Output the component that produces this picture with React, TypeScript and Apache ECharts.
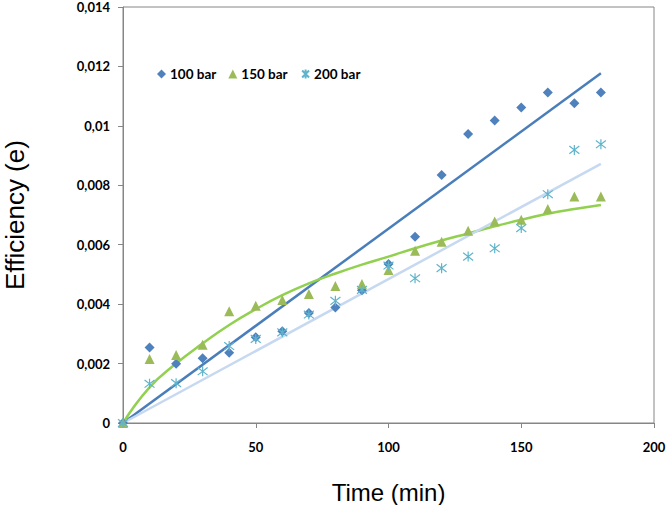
import React, { useEffect, useRef } from "react";
import * as echarts from "echarts";

const times = [0, 10, 20, 30, 40, 50, 60, 70, 80, 90, 100, 110, 120, 130, 140, 150, 160, 170, 180];
const bar100 = [0, 0.00254, 0.00199, 0.00218, 0.00236, 0.00289, 0.00309, 0.0037, 0.00389, 0.00447, 0.00535, 0.00627, 0.00835, 0.00973, 0.01018, 0.01062, 0.01112, 0.01076, 0.01112];
const bar150 = [0, 0.00215, 0.00229, 0.00263, 0.00376, 0.00395, 0.00414, 0.00434, 0.00461, 0.00468, 0.00515, 0.0058, 0.0061, 0.00647, 0.00678, 0.00684, 0.0072, 0.00762, 0.00762];
const bar200 = [0, 0.00132, 0.00134, 0.00174, 0.00259, 0.00283, 0.00305, 0.00365, 0.00411, 0.00448, 0.0053, 0.00487, 0.00521, 0.0056, 0.00588, 0.00656, 0.0077, 0.00919, 0.00938];
const trend100 = [[0, 0], [180, 0.01177]];
const trend200 = [[0, 0], [180, 0.00872]];
const trend150 = [0, 0.0012, 0.002, 0.00268, 0.0033, 0.00383, 0.0043, 0.0047, 0.00503, 0.00533, 0.0056, 0.00588, 0.00614, 0.00638, 0.00662, 0.00684, 0.00704, 0.0072, 0.00734];
const seriesNames = ["100 bar", "150 bar", "200 bar"];

const STAR = "path://M0,0L10,10M10,0L0,10M5,-1.5L5,11.5";

export default function App() {
  const ref = useRef<HTMLDivElement>(null);
  useEffect(() => {
    if (!ref.current) return;
    const chart = echarts.init(ref.current, null, { renderer: "svg" });
    const pair = (arr: number[]) => times.map((t, i) => [t, arr[i]]);
    const tickFont = { fontFamily: "Lato", fontWeight: "bold" as const, fontSize: 13, color: "#000" };
    chart.setOption({
      animation: false,
      backgroundColor: "#fff",
      grid: {
        left: 123, right: 12, top: 7, bottom: 82,
        outerBoundsMode: "none", containLabel: false,
        show: true, borderColor: "#868686", borderWidth: 1, backgroundColor: "transparent",
      },
      legend: {
        data: seriesNames,
        left: 152, top: 62,
        itemWidth: 9, itemHeight: 9, itemGap: 12,
        textStyle: { ...tickFont, fontSize: 13.5, padding: [0, 0, 0, -1] },
      },
      xAxis: {
        type: "value", min: 0, max: 200, interval: 50,
        name: "Time (min)", nameLocation: "middle", nameGap: 57,
        nameTextStyle: { fontFamily: "Liberation Sans", fontSize: 24, color: "#000" },
        axisLine: { lineStyle: { color: "#868686" } },
        axisTick: { show: true, inside: false, length: 5, lineStyle: { color: "#868686" } },
        axisLabel: { ...tickFont, margin: 17 },
        splitLine: { show: false },
      },
      yAxis: {
        type: "value", min: 0, max: 0.014, interval: 0.002,
        name: "Efficiency (e)", nameLocation: "middle", nameGap: 95,
        nameTextStyle: { fontFamily: "Liberation Sans", fontSize: 26, color: "#000" },
        axisLine: { show: true, lineStyle: { color: "#868686" } },
        axisTick: { show: true, inside: false, length: 5, lineStyle: { color: "#868686" } },
        axisLabel: {
          ...tickFont, margin: 13,
          formatter: (v: number) => (v === 0 ? "0" : String(parseFloat(v.toFixed(3))).replace(".", ",")),
        },
        splitLine: { show: false },
      },
      series: [
        {
          name: "trend100", type: "line", data: trend100, symbol: "none",
          lineStyle: { color: "#4a7ebb", width: 2.5 }, z: 1, silent: true,
        },
        {
          name: "trend150", type: "line", data: pair(trend150), symbol: "none", smooth: true,
          lineStyle: { color: "#92d050", width: 2.5 }, z: 1, silent: true,
        },
        {
          name: "trend200", type: "line", data: trend200, symbol: "none",
          lineStyle: { color: "#c6d9f1", width: 2.5 }, z: 1, silent: true,
        },
        {
          name: seriesNames[0], type: "scatter", data: pair(bar100), symbol: "diamond", symbolSize: 10,
          itemStyle: { color: "#4f81bd", opacity: 1 }, z: 3,
        },
        {
          name: seriesNames[1], type: "scatter", data: pair(bar150), symbol: "triangle", symbolSize: 10,
          itemStyle: { color: "#9bbb59", opacity: 1 }, z: 3,
        },
        {
          name: seriesNames[2], type: "scatter", data: pair(bar200), symbol: STAR, symbolSize: 10,
          itemStyle: { color: "none", borderColor: "#5fb4cc", borderWidth: 1.2, opacity: 1 }, z: 3,
        },
      ],
    });
    return () => chart.dispose();
  }, []);
  return <div ref={ref} style={{ width: 666, height: 505, position: "absolute", left: 0, top: 0 }} />;
}
